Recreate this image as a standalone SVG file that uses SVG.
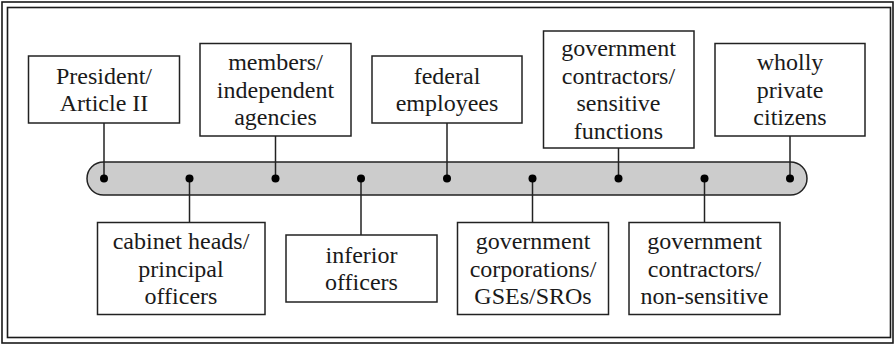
<svg xmlns="http://www.w3.org/2000/svg" width="894" height="345" viewBox="0 0 894 345">
<style>
.frame{fill:none;stroke:#1a1a1a;stroke-width:1.6}
.box{fill:#ffffff;stroke:#222;stroke-width:1.5}
.bar{fill:#cccccc;stroke:#222;stroke-width:1.5}
.conn{stroke:#222;stroke-width:1.5;fill:none}
.dot{fill:#000}
text{font-family:"Liberation Serif","Times New Roman",serif;font-size:24px;fill:#1a1a1a;text-anchor:middle}
</style>
<rect width="894" height="345" fill="#ffffff"/>
<rect class="frame" x="2" y="2" width="891" height="341"/>
<rect class="frame" x="7.5" y="7.5" width="883" height="330"/>
<g id="bar">
<rect class="bar" x="87" y="162" width="720" height="33" rx="16.5" ry="16.5"/>
</g>
<g id="connectors">
<line class="conn" x1="104" y1="123" x2="104" y2="178"/>
<line class="conn" x1="275.5" y1="136" x2="275.5" y2="178"/>
<line class="conn" x1="447" y1="123" x2="447" y2="178"/>
<line class="conn" x1="618.5" y1="148" x2="618.5" y2="178"/>
<line class="conn" x1="790" y1="136" x2="790" y2="178"/>
<line class="conn" x1="189.5" y1="178" x2="189.5" y2="222"/>
<line class="conn" x1="361" y1="178" x2="361" y2="235"/>
<line class="conn" x1="532.5" y1="178" x2="532.5" y2="222"/>
<line class="conn" x1="704.5" y1="178" x2="704.5" y2="222"/>
<circle class="dot" cx="104" cy="178.5" r="4"/>
<circle class="dot" cx="189.5" cy="178.5" r="4"/>
<circle class="dot" cx="275.5" cy="178.5" r="4"/>
<circle class="dot" cx="361" cy="178.5" r="4"/>
<circle class="dot" cx="447" cy="178.5" r="4"/>
<circle class="dot" cx="532.5" cy="178.5" r="4"/>
<circle class="dot" cx="618.5" cy="178.5" r="4"/>
<circle class="dot" cx="704.5" cy="178.5" r="4"/>
<circle class="dot" cx="790" cy="178.5" r="4"/>
</g>
<g id="president">
<rect class="box" x="28.5" y="56" width="151" height="67"/>
<text x="104" y="83.5">President/</text>
<text x="104" y="111">Article II</text>
</g>
<g id="members">
<rect class="box" x="200" y="43.5" width="151" height="92.5"/>
<text x="275.5" y="70">members/</text>
<text x="275.5" y="97.5">independent</text>
<text x="275.5" y="125">agencies</text>
</g>
<g id="federal">
<rect class="box" x="372" y="56" width="150" height="67"/>
<text x="447" y="83.5">federal</text>
<text x="447" y="111">employees</text>
</g>
<g id="contractors-sensitive">
<rect class="box" x="543.5" y="31" width="150.5" height="117"/>
<text x="618.5" y="56">government</text>
<text x="618.5" y="83.5">contractors/</text>
<text x="618.5" y="111">sensitive</text>
<text x="618.5" y="138.5">functions</text>
</g>
<g id="private">
<rect class="box" x="715" y="43.5" width="150" height="92.5"/>
<text x="790" y="70">wholly</text>
<text x="790" y="97.5">private</text>
<text x="790" y="125">citizens</text>
</g>
<g id="cabinet">
<rect class="box" x="97.5" y="222.5" width="167.5" height="92"/>
<text x="181" y="249">cabinet heads/</text>
<text x="181" y="276.5">principal</text>
<text x="181" y="304">officers</text>
</g>
<g id="inferior">
<rect class="box" x="286" y="235" width="151" height="67"/>
<text x="361.5" y="262.5">inferior</text>
<text x="361.5" y="290">officers</text>
</g>
<g id="corporations">
<rect class="box" x="457.5" y="222.5" width="151" height="92"/>
<text x="533" y="249">government</text>
<text x="533" y="276.5">corporations/</text>
<text x="533" y="304">GSEs/SROs</text>
</g>
<g id="contractors-nonsensitive">
<rect class="box" x="629" y="222.5" width="151" height="92"/>
<text x="704.5" y="249">government</text>
<text x="704.5" y="276.5">contractors/</text>
<text x="704.5" y="304">non-sensitive</text>
</g>
</svg>
